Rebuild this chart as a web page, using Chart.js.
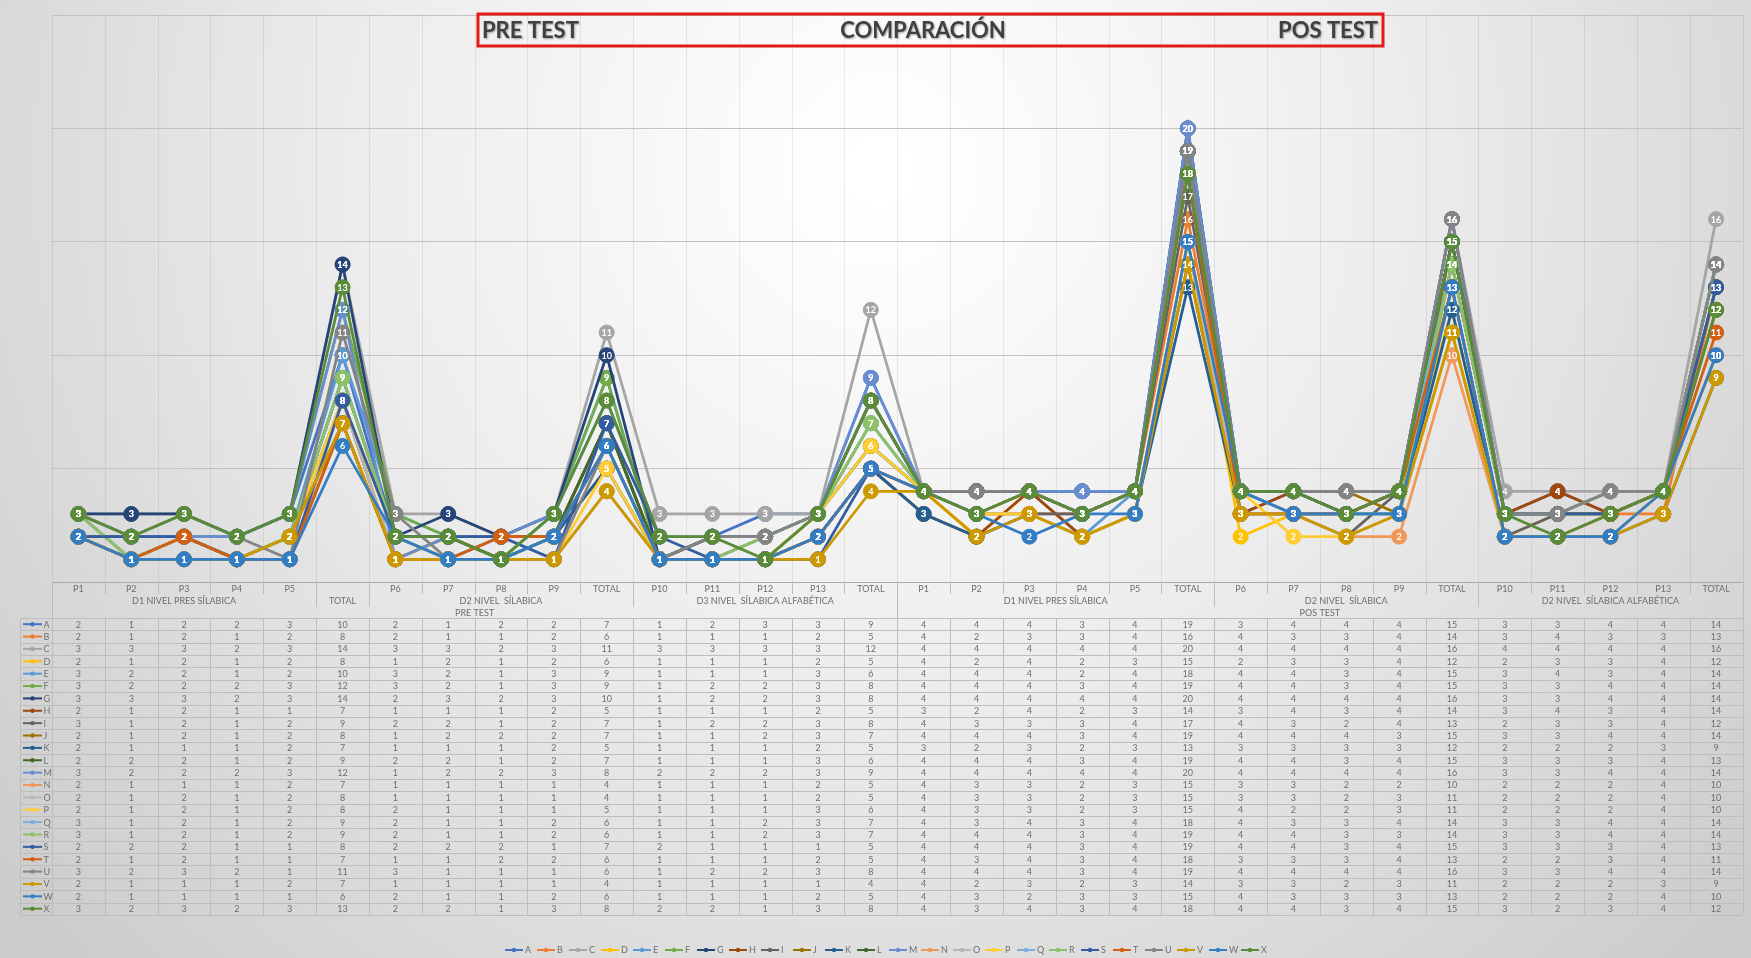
<!DOCTYPE html>
<html><head><meta charset="utf-8">
<script src="https://cdn.jsdelivr.net/npm/chart.js@4.4.1/dist/chart.umd.min.js"></script>
<style>html,body{margin:0;padding:0;background:#fff;overflow:hidden}#wrap{width:1751px;height:958px;position:relative}</style>
</head><body><div id="wrap"><canvas id="c" width="1751" height="958"></canvas></div>
<script>
// ---- categories / tick labels ----
const level1Labels = ['P1','P2','P3','P4','P5','','P6','P7','P8','P9','TOTAL','P10','P11','P12','P13','TOTAL',
                      'P1','P2','P3','P4','P5','TOTAL','P6','P7','P8','P9','TOTAL','P10','P11','P12','P13','TOTAL'];
const level2Labels = ['D1 NIVEL PRES SÍLABICA','TOTAL','D2 NIVEL  SÍLABICA','D3 NIVEL  SÍLABICA ALFABÉTICA',
                      'D1 NIVEL PRES SÍLABICA','D2 NIVEL  SÍLABICA','D2 NIVEL  SÍLABICA ALFABÉTICA'];
const level2Spans  = [5,1,5,5,6,5,5];
const level3Labels = ['PRE TEST','POS TEST'];
const level3Spans  = [16,16];
const seriesNames = ['A','B','C','D','E','F','G','H','I','J','K','L','M','N','O','P','Q','R','S','T','U','V','W','X'];

// ---- series values (pre test 16 columns, pos test 16 columns) ----
const A = [2,1,2,2,3,10,2,1,2,2,7,1,2,3,3,9, 4,4,4,3,4,19,3,4,4,4,15,3,3,4,4,14];
const B = [2,1,2,1,2,8,2,1,1,2,6,1,1,1,2,5, 4,2,3,3,4,16,4,3,3,4,14,3,4,3,3,13];
const C = [3,3,3,2,3,14,3,3,2,3,11,3,3,3,3,12, 4,4,4,4,4,20,4,4,4,4,16,4,4,4,4,16];
const D = [2,1,2,1,2,8,1,2,1,2,6,1,1,1,2,5, 4,2,4,2,3,15,2,3,3,4,12,2,3,3,4,12];
const E = [3,2,2,1,2,10,3,2,1,3,9,1,1,1,3,6, 4,4,4,2,4,18,4,4,3,4,15,3,4,3,4,14];
const F = [3,2,2,2,3,12,3,2,1,3,9,1,2,2,3,8, 4,4,4,3,4,19,4,4,3,4,15,3,3,4,4,14];
const G = [3,3,3,2,3,14,2,3,2,3,10,1,2,2,3,8, 4,4,4,4,4,20,4,4,4,4,16,3,3,4,4,14];
const H = [2,1,2,1,1,7,1,1,1,2,5,1,1,1,2,5, 3,2,4,2,3,14,3,4,3,4,14,3,4,3,4,14];
const I = [3,1,2,1,2,9,2,2,1,2,7,1,2,2,3,8, 4,3,3,3,4,17,4,3,2,4,13,2,3,3,4,12];
const J = [2,1,2,1,2,8,1,2,2,2,7,1,1,2,3,7, 4,4,4,3,4,19,4,4,4,3,15,3,3,4,4,14];
const K = [2,1,1,1,2,7,1,1,1,2,5,1,1,1,2,5, 3,2,3,2,3,13,3,3,3,3,12,2,2,2,3,9];
const L = [2,2,2,1,2,9,2,2,1,2,7,1,1,1,3,6, 4,4,4,3,4,19,4,4,3,4,15,3,3,3,4,13];
const M = [3,2,2,2,3,12,1,2,2,3,8,2,2,2,3,9, 4,4,4,4,4,20,4,4,4,4,16,3,3,4,4,14];
const N = [2,1,1,1,2,7,1,1,1,1,4,1,1,1,2,5, 4,3,3,2,3,15,3,3,2,2,10,2,2,2,4,10];
const O = [2,1,2,1,2,8,1,1,1,1,4,1,1,1,2,5, 4,3,3,2,3,15,3,3,2,3,11,2,2,2,4,10];
const P = [2,1,2,1,2,8,2,1,1,1,5,1,1,1,3,6, 4,3,3,2,3,15,4,2,2,3,11,2,2,2,4,10];
const Q = [3,1,2,1,2,9,2,1,1,2,6,1,1,2,3,7, 4,3,4,3,4,18,4,3,3,4,14,3,3,4,4,14];
const R = [3,1,2,1,2,9,2,1,1,2,6,1,1,2,3,7, 4,4,4,3,4,19,4,4,3,3,14,3,3,4,4,14];
const S = [2,2,2,1,1,8,2,2,2,1,7,2,1,1,1,5, 4,4,4,3,4,19,4,4,3,4,15,3,3,3,4,13];
const T = [2,1,2,1,1,7,1,1,2,2,6,1,1,1,2,5, 4,3,4,3,4,18,3,3,3,4,13,2,2,3,4,11];
const U = [3,2,3,2,1,11,3,1,1,1,6,1,2,2,3,8, 4,4,4,3,4,19,4,4,4,4,16,3,3,4,4,14];
const V = [2,1,1,1,2,7,1,1,1,1,4,1,1,1,1,4, 4,2,3,2,3,14,3,3,2,3,11,2,2,2,3,9];
const W = [2,1,1,1,1,6,2,1,1,2,6,1,1,1,2,5, 4,3,2,3,3,15,4,3,3,3,13,2,2,2,4,10];
const X = [3,2,3,2,3,13,2,2,1,3,8,2,2,1,3,8, 4,3,4,3,4,18,4,4,3,4,15,3,2,3,4,12];
const seriesData = [A,B,C,D,E,F,G,H,I,J,K,L,M,N,O,P,Q,R,S,T,U,V,W,X];

const seriesColors = ['#4472C4','#ED7D31','#A5A5A5','#FFC000','#5B9BD5','#70AD47',
  '#264478','#9E480E','#636363','#997300','#255E91','#43682B',
  '#698ED0','#F1975A','#B7B7B7','#FFCD33','#7CAFDD','#8CC168',
  '#335CA1','#D25F12','#848484','#CC9900','#327DC3','#5A8B39'];

const TXT = '#6e6e6e';
const LINE = '#bdbdbd';
const TABLE_TOP = 618, ROW_H = 12.37, TABLE_LEFT = 20;

const bgPlugin = {
  id:'bg',
  beforeDraw(chart){
    const ctx = chart.ctx;
    const g = ctx.createRadialGradient(880,170,30,880,170,1150);
    g.addColorStop(0,'#ffffff'); g.addColorStop(0.45,'#ececec'); g.addColorStop(1,'#cbcbcb');
    ctx.save(); ctx.fillStyle = g; ctx.fillRect(0,0,chart.width,chart.height); ctx.restore();
  },
  beforeDatasetsDraw(chart){
    const ctx = chart.ctx, a = chart.chartArea, n = level1Labels.length, w = (a.right-a.left)/n;
    ctx.save(); ctx.strokeStyle = 'rgba(0,0,0,0.07)'; ctx.lineWidth = 1;
    for (let i=0;i<=n;i++){ const x = Math.round(a.left+i*w)+0.5; ctx.beginPath(); ctx.moveTo(x,a.top); ctx.lineTo(x,a.bottom); ctx.stroke(); }
    ctx.restore();
  },
  afterDatasetsDraw(chart){
    const ctx = chart.ctx;
    ctx.save(); ctx.fillStyle = '#fff'; ctx.font = 'bold 9px Lato'; ctx.textAlign = 'center'; ctx.textBaseline = 'middle';
    chart.data.datasets.forEach((ds,i)=>{
      const meta = chart.getDatasetMeta(i);
      meta.data.forEach((pt,j)=>{ ctx.fillText(String(ds.data[j]), pt.x, pt.y+0.5); });
    });
    ctx.restore();
  },
  afterDraw(chart){
    const ctx = chart.ctx, a = chart.chartArea, n = level1Labels.length, w = (a.right-a.left)/n;
    const colX = i => a.left + i*w;
    ctx.save();
    // axis line
    ctx.strokeStyle = '#a9a9a9'; ctx.lineWidth = 1;
    ctx.beginPath(); ctx.moveTo(a.left, a.bottom+0.5); ctx.lineTo(a.right, a.bottom+0.5); ctx.stroke();
    // boundaries for levels
    const b2 = new Set([0]); let acc = 0; level2Spans.forEach(s=>{acc+=s; b2.add(acc);});
    const b3 = new Set([0]); acc = 0; level3Spans.forEach(s=>{acc+=s; b3.add(acc);});
    ctx.strokeStyle = LINE;
    for (let i=0;i<=n;i++){
      const x = Math.round(colX(i))+0.5;
      let y2 = a.bottom + 12;
      if (b2.has(i)) y2 = a.bottom + 25;
      if (b3.has(i)) y2 = TABLE_TOP;
      ctx.beginPath(); ctx.moveTo(x, a.bottom); ctx.lineTo(x, y2); ctx.stroke();
    }
    ctx.fillStyle = TXT; ctx.font = '9px Lato'; ctx.textAlign = 'center'; ctx.textBaseline = 'middle';
    level1Labels.forEach((t,i)=>{ if (t) ctx.fillText(t, colX(i)+w/2, a.bottom+7); });
    acc = 0;
    level2Labels.forEach((t,k)=>{ const s = level2Spans[k]; ctx.fillText(t, colX(acc + s/2), a.bottom+(s===1?19:19)); acc += s; });
    acc = 0;
    level3Labels.forEach((t,k)=>{ const s = level3Spans[k]; ctx.fillText(t, colX(acc + s/2), a.bottom+31); acc += s; });
    // data table
    const rows = seriesNames.length, bottom = TABLE_TOP + rows*ROW_H;
    for (let r=0;r<=rows;r++){ const y = Math.round(TABLE_TOP + r*ROW_H)+0.5; ctx.beginPath(); ctx.moveTo(TABLE_LEFT,y); ctx.lineTo(a.right,y); ctx.stroke(); }
    [TABLE_LEFT].concat([...Array(n+1).keys()].map(colX)).forEach(x=>{ const xx = Math.round(x)+0.5; ctx.beginPath(); ctx.moveTo(xx,TABLE_TOP); ctx.lineTo(xx,bottom); ctx.stroke(); });
    seriesNames.forEach((name,r)=>{
      const y = TABLE_TOP + r*ROW_H + ROW_H/2;
      const col = seriesColors[r];
      ctx.strokeStyle = col; ctx.lineWidth = 2; ctx.beginPath(); ctx.moveTo(23,y); ctx.lineTo(42,y); ctx.stroke();
      ctx.fillStyle = col; ctx.beginPath(); ctx.arc(32.5,y,2.2,0,Math.PI*2); ctx.fill();
      ctx.fillStyle = TXT; ctx.textAlign = 'left'; ctx.fillText(name, 43.5, y+0.5);
      ctx.textAlign = 'center';
      seriesData[r].forEach((v,j)=>{ ctx.fillText(String(v), colX(j)+w/2, y+0.5); });
      ctx.strokeStyle = LINE; ctx.lineWidth = 1;
    });
    // legend
    const lx0 = 505, step = 32, ly = 950;
    seriesNames.forEach((name,k)=>{
      const x = lx0 + k*step, col = seriesColors[k];
      ctx.strokeStyle = col; ctx.lineWidth = 2; ctx.beginPath(); ctx.moveTo(x,ly); ctx.lineTo(x+18,ly); ctx.stroke();
      ctx.fillStyle = col; ctx.beginPath(); ctx.arc(x+9,ly,2.2,0,Math.PI*2); ctx.fill();
      ctx.fillStyle = TXT; ctx.textAlign = 'left'; ctx.fillText(name, x+20, ly+0.5);
    });
    // title box
    ctx.strokeStyle = '#e41a1a'; ctx.lineWidth = 3;
    ctx.strokeRect(478, 14, 905, 32);
    ctx.fillStyle = '#404040'; ctx.font = 'bold 22px Lato'; ctx.textBaseline = 'middle';
    ctx.shadowColor = 'rgba(0,0,0,0.35)'; ctx.shadowBlur = 2; ctx.shadowOffsetX = 1; ctx.shadowOffsetY = 1;
    ctx.textAlign = 'left'; ctx.fillText('PRE TEST', 482, 31);
    ctx.textAlign = 'center'; ctx.fillText('COMPARACIÓN', 923, 31);
    ctx.textAlign = 'right'; ctx.fillText('POS TEST', 1378, 31);
    ctx.restore();
  }
};

new Chart(document.getElementById('c'), {
  type: 'line',
  data: {
    labels: level1Labels.map((t,i)=> (i<16?'PRE ':'POS ') + (t||'TOTAL D1')),
    datasets: seriesNames.map((name,i)=>({
      label: name, data: seriesData[i],
      borderColor: seriesColors[i], backgroundColor: seriesColors[i],
      pointBackgroundColor: seriesColors[i], pointBorderColor: seriesColors[i],
      pointRadius: 7.5, pointHoverRadius: 7.5, pointBorderWidth: 1,
      borderWidth: 2.75, tension: 0, fill: false, order: seriesNames.length - i
    }))
  },
  options: {
    responsive: false, animation: false, devicePixelRatio: 1,
    layout: { padding: { top: 15, left: 52, right: 0, bottom: 0 } },
    plugins: { legend: { display: false }, tooltip: { enabled: false }, title: { display: false } },
    scales: {
      x: { offset: true, grid: { display: false }, border: { display: false }, ticks: { display: false },
           afterFit(s){ s.height = 376; } },
      y: { min: 0, max: 25, ticks: { display: false, stepSize: 5 },
           grid: { color: '#c2c2c2', lineWidth: 1, drawTicks: false }, border: { display: false },
           afterFit(s){ s.width = 0; } }
    }
  },
  plugins: [bgPlugin]
});
</script>
</body></html>
